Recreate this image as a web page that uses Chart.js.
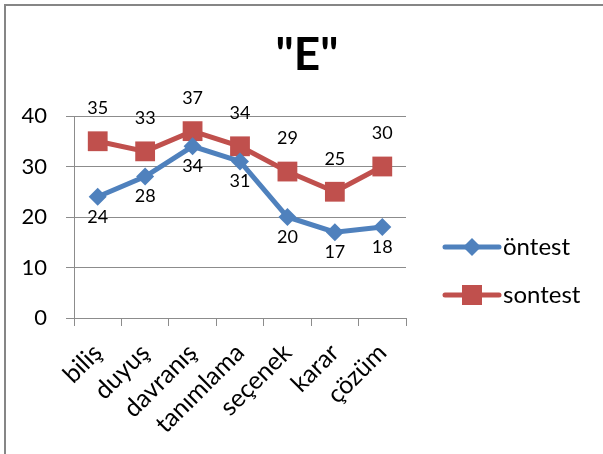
<!DOCTYPE html>
<html>
<head>
<meta charset="utf-8">
<script src="https://cdn.jsdelivr.net/npm/chart.js@4/dist/chart.umd.min.js"></script>
<style>
  html, body { margin: 0; padding: 0; background: #ffffff; }
  #wrap { width: 603px; height: 454px; position: relative; }
</style>
</head>
<body>
<div id="wrap"><canvas id="c" width="603" height="454"></canvas></div>
<script>
// Chart title and categories
const chartTitle = '"E"';
const categories = ['biliş', 'duyuş', 'davranış', 'tanımlama', 'seçenek', 'karar', 'çözüm'];

// Series values
const ontest = [24, 28, 34, 31, 20, 17, 18];
const sontest = [35, 33, 37, 34, 29, 25, 30];

// Value axis ticks
const yTicks = [0, 10, 20, 30, 40];

const FONT = 'Lato, "Open Sans", sans-serif';
const BLUE = '#4f81bd';
const RED = '#c0504d';
const GRID = '#8c8c8c';

// Outer frame of the chart object
const framePlugin = {
  id: 'frame',
  beforeDraw(chart) {
    const ctx = chart.ctx;
    ctx.save();
    ctx.fillStyle = '#ffffff';
    ctx.fillRect(0, 0, chart.width, chart.height);
    ctx.strokeStyle = '#868686';
    ctx.lineWidth = 2;
    ctx.beginPath();
    ctx.moveTo(5, chart.height + 5);
    ctx.lineTo(5, 5);
    ctx.lineTo(chart.width + 5, 5);
    ctx.stroke();
    ctx.restore();
  }
};

// Bold title centred over the plot
const titlePlugin = {
  id: 'bigTitle',
  afterDraw(chart) {
    const ctx = chart.ctx;
    ctx.save();
    ctx.font = 'bold 46px ' + FONT;
    ctx.fillStyle = '#000000';
    ctx.textAlign = 'center';
    ctx.textBaseline = 'middle';
    ctx.fillText(chartTitle, 307, 55);
    ctx.restore();
  }
};

// Value labels: pre-test below its points, post-test above
const valueLabels = {
  id: 'valueLabels',
  afterDatasetsDraw(chart) {
    const ctx = chart.ctx;
    ctx.save();
    ctx.font = '18px ' + FONT;
    ctx.fillStyle = '#000000';
    ctx.textAlign = 'center';
    ctx.textBaseline = 'middle';
    chart.data.datasets.forEach((ds, i) => {
      const meta = chart.getDatasetMeta(i);
      const dy = ds.labelBelow ? 20 : -33;
      meta.data.forEach((pt, j) => {
        ctx.fillText(String(ds.data[j]), pt.x, pt.y + dy);
      });
    });
    ctx.restore();
  }
};

// Legend on the right: line with marker, then series name
const sideLegend = {
  id: 'sideLegend',
  afterDraw(chart) {
    const ctx = chart.ctx;
    const x0 = 445, x1 = 499, cx = 472;
    const rows = [247, 295];
    ctx.save();
    chart.data.datasets.forEach((ds, i) => {
      const y = rows[i];
      ctx.strokeStyle = ds.borderColor;
      ctx.lineWidth = 5;
      ctx.lineCap = 'round';
      ctx.beginPath();
      ctx.moveTo(x0, y);
      ctx.lineTo(x1, y);
      ctx.stroke();
      ctx.fillStyle = ds.pointBackgroundColor;
      ctx.beginPath();
      if (ds.pointStyle === 'rectRot') {
        const r = 9;
        ctx.moveTo(cx - r, y);
        ctx.lineTo(cx, y - r);
        ctx.lineTo(cx + r, y);
        ctx.lineTo(cx, y + r);
        ctx.closePath();
      } else {
        ctx.rect(cx - 10, y - 10, 20, 20);
      }
      ctx.fill();
      ctx.fillStyle = '#000000';
      ctx.font = '24px ' + FONT;
      ctx.textAlign = 'left';
      ctx.textBaseline = 'middle';
      ctx.fillText(ds.label, 503, y);
    });
    ctx.restore();
  }
};

new Chart(document.getElementById('c'), {
  type: 'line',
  data: {
    labels: categories,
    datasets: [
      {
        label: 'öntest',
        data: ontest,
        borderColor: BLUE,
        backgroundColor: BLUE,
        pointBackgroundColor: BLUE,
        pointBorderColor: BLUE,
        borderWidth: 5,
        pointStyle: 'rectRot',
        pointRadius: 9,
        pointBorderWidth: 0,
        tension: 0,
        labelBelow: true
      },
      {
        label: 'sontest',
        data: sontest,
        borderColor: RED,
        backgroundColor: RED,
        pointBackgroundColor: RED,
        pointBorderColor: RED,
        borderWidth: 5,
        pointStyle: 'rect',
        pointRadius: 14,
        pointBorderWidth: 0,
        tension: 0,
        labelBelow: false
      }
    ]
  },
  options: {
    responsive: false,
    animation: false,
    devicePixelRatio: 1,
    layout: { padding: { left: 0, right: 197, top: 116, bottom: 0 } },
    plugins: {
      legend: { display: false },
      title: { display: false },
      tooltip: { enabled: false }
    },
    scales: {
      x: {
        offset: true,
        grid: { offset: true, drawOnChartArea: false, drawTicks: true, tickLength: 8, color: GRID },
        border: { color: GRID, width: 1 },
        ticks: {
          font: { family: FONT, size: 25 },
          color: '#000000',
          minRotation: 45,
          maxRotation: 45,
          padding: 12,
          autoSkip: false
        },
        afterFit(scale) { scale.height = 136; }
      },
      y: {
        min: 0,
        max: 40,
        afterBuildTicks(scale) { scale.ticks = yTicks.map(v => ({ value: v })); },
        grid: { color: GRID, tickLength: 8, drawTicks: true },
        border: { color: GRID, width: 1 },
        ticks: {
          font: { family: FONT, size: 22 },
          color: '#000000',
          padding: 19
        },
        afterFit(scale) { scale.width = 74; }
      }
    }
  },
  plugins: [framePlugin, valueLabels, sideLegend, titlePlugin]
});
</script>
</body>
</html>
